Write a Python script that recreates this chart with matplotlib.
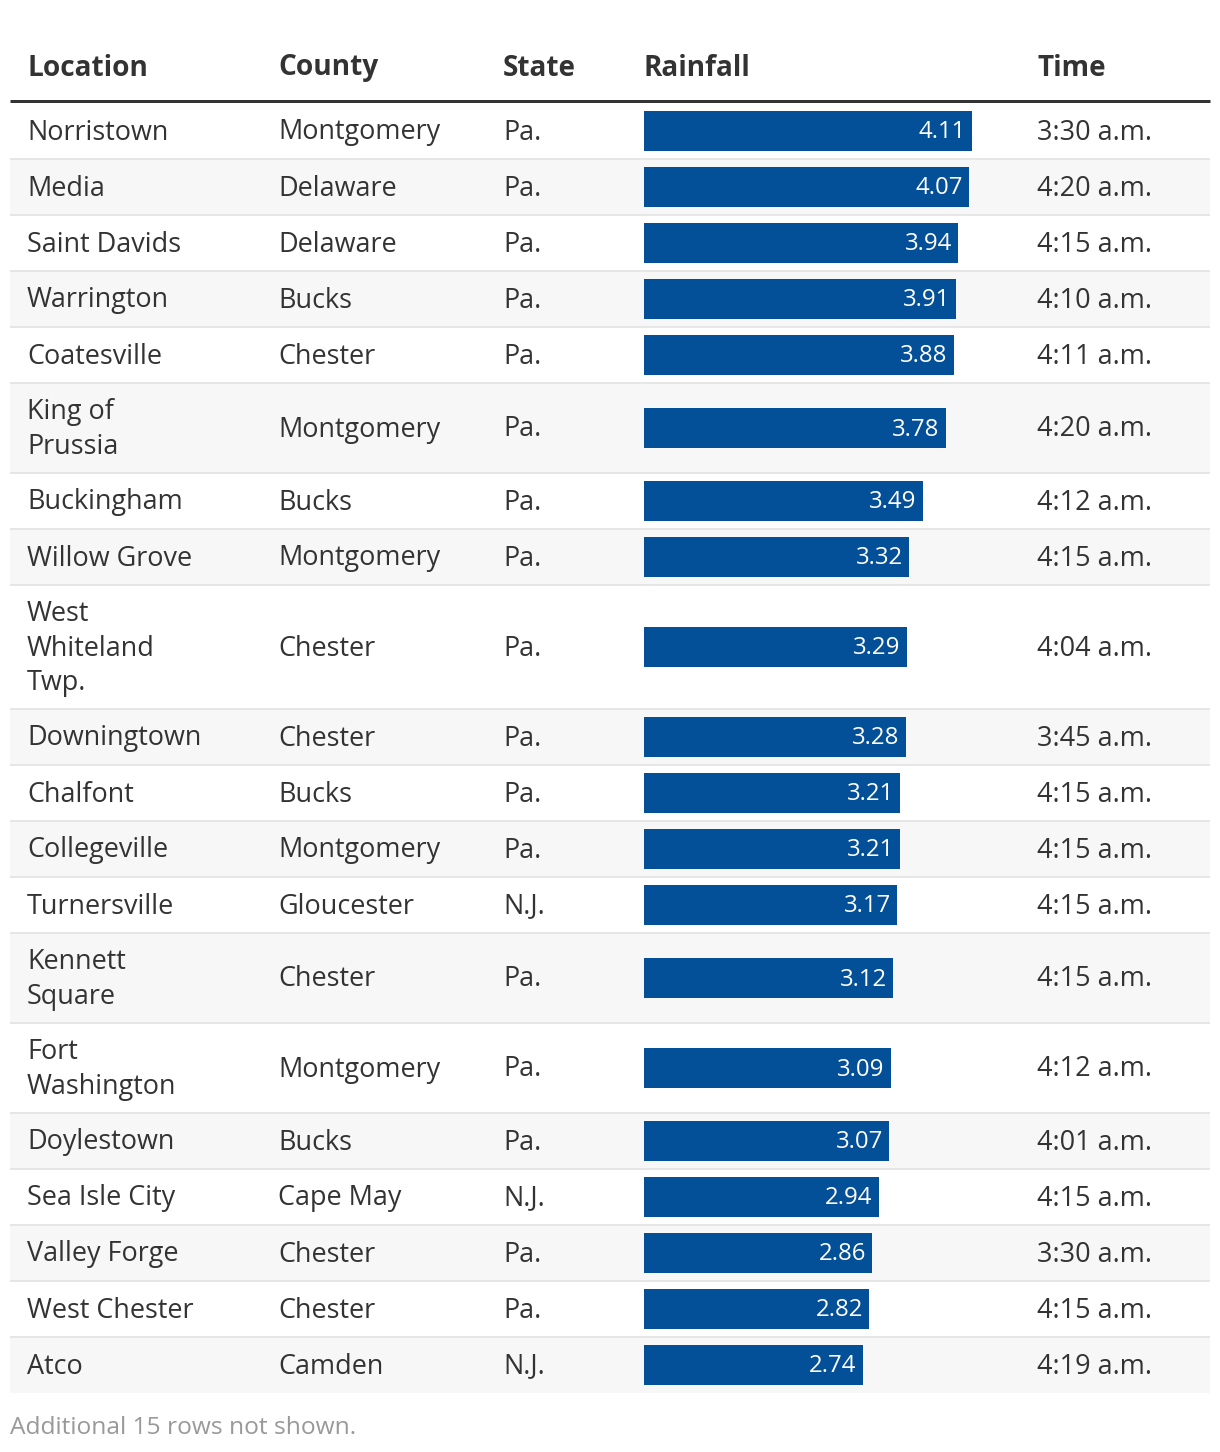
import matplotlib
matplotlib.use("Agg")
import matplotlib.pyplot as plt
from matplotlib.patches import Rectangle

locations = ["Norristown", "Media", "Saint Davids", "Warrington", "Coatesville",
             "King of\nPrussia", "Buckingham", "Willow Grove", "West\nWhiteland\nTwp.",
             "Downingtown", "Chalfont", "Collegeville", "Turnersville", "Kennett\nSquare",
             "Fort\nWashington", "Doylestown", "Sea Isle City", "Valley Forge",
             "West Chester", "Atco"]
counties = ["Montgomery", "Delaware", "Delaware", "Bucks", "Chester", "Montgomery",
            "Bucks", "Montgomery", "Chester", "Chester", "Bucks", "Montgomery",
            "Gloucester", "Chester", "Montgomery", "Bucks", "Cape May", "Chester",
            "Chester", "Camden"]
states = ["Pa.", "Pa.", "Pa.", "Pa.", "Pa.", "Pa.", "Pa.", "Pa.", "Pa.", "Pa.",
          "Pa.", "Pa.", "N.J.", "Pa.", "Pa.", "Pa.", "N.J.", "Pa.", "Pa.", "N.J."]
rainfall = [4.11, 4.07, 3.94, 3.91, 3.88, 3.78, 3.49, 3.32, 3.29, 3.28,
            3.21, 3.21, 3.17, 3.12, 3.09, 3.07, 2.94, 2.86, 2.82, 2.74]
times = ["3:30 a.m.", "4:20 a.m.", "4:15 a.m.", "4:10 a.m.", "4:11 a.m.",
         "4:20 a.m.", "4:12 a.m.", "4:15 a.m.", "4:04 a.m.", "3:45 a.m.",
         "4:15 a.m.", "4:15 a.m.", "4:15 a.m.", "4:15 a.m.", "4:12 a.m.",
         "4:01 a.m.", "4:15 a.m.", "3:30 a.m.", "4:15 a.m.", "4:19 a.m."]
headers = ["Location", "County", "State", "Rainfall", "Time"]
footer = "Additional 15 rows not shown."

W, H = 1220, 1452
DPI = 100
FONT = "Open Sans"
px = lambda p: p * 72 / DPI  # pixel size -> points

fig = plt.figure(figsize=(W / DPI, H / DPI), dpi=DPI)
ax = fig.add_axes([0, 0, 1, 1])
ax.set_xlim(0, W)
ax.set_ylim(H, 0)
ax.axis("off")

col_x = [27, 278, 503, 644, 1037]
left, right = 10, 1210
text_color = "#333333"
fs = px(27)

# header
for x, h in zip(col_x, headers):
    ax.text(x, 68, h, fontsize=px(28), fontweight="bold", family=FONT,
            color=text_color, va="center", ha="left")
ax.plot([left, right], [101, 101], color="#333333", lw=3 * 72 / DPI,
        solid_capstyle="butt")

# rows
line_h = 34
top = 103
centers, heights = [], []
for i, loc in enumerate(locations):
    n = loc.count("\n") + 1
    h = 56 + (n - 1) * line_h
    centers.append(top + h / 2)
    heights.append(h)
    bg = "#ffffff" if i % 2 == 0 else "#f7f7f7"
    ax.add_patch(Rectangle((left, top), right - left, h, facecolor=bg,
                           edgecolor="none", zorder=0))
    if i < len(locations) - 1:
        ax.plot([left, right], [top + h, top + h], color="#e6e6e6",
                lw=2 * 72 / DPI, zorder=1, solid_capstyle="butt")
    top += h

for i in range(len(locations)):
    c = centers[i] + 1.5
    ax.text(col_x[0], c, locations[i], fontsize=fs, family=FONT, color=text_color,
            va="center", ha="left", linespacing=1.33)
    ax.text(col_x[1], c, counties[i], fontsize=fs, family=FONT, color=text_color,
            va="center", ha="left")
    ax.text(col_x[2], c, states[i], fontsize=fs, family=FONT, color=text_color,
            va="center", ha="left")
    ax.text(col_x[4], c, times[i], fontsize=fs, family=FONT, color=text_color,
            va="center", ha="left")

ax.text(left, 1428, footer, fontsize=px(24.5), family=FONT, color="#999999",
        va="center", ha="left")

# bar axes: 79.8 px per inch of rain, starting at x=644
unit = 79.8
xmax = 5
bax = fig.add_axes([644 / W, 0, unit * xmax / W, 1], sharey=ax)
bax.set_xlim(0, xmax)
bax.axis("off")
bax.patch.set_alpha(0)
bax.barh(centers, rainfall, height=40, color="#034f98", zorder=3)
for c, v in zip(centers, rainfall):
    bax.annotate(f"{v:.2f}", (v, c + 1.5), xytext=(-6 * 72 / DPI, 0),
                 textcoords="offset points", ha="right", va="center",
                 color="white", fontsize=px(24), family=FONT, zorder=4)

fig.savefig("out.png", dpi=DPI)
